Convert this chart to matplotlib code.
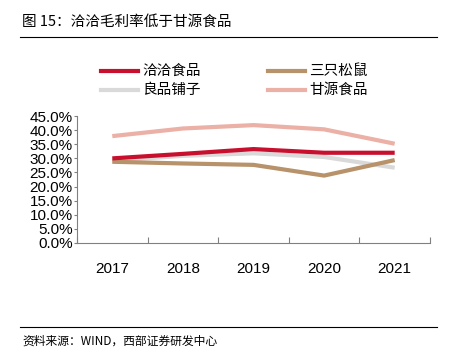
import matplotlib.pyplot as plt
from matplotlib.ticker import FixedLocator, PercentFormatter
from matplotlib.lines import Line2D

plt.rcParams['font.family'] = ['Liberation Sans', 'Noto Sans CJK SC', 'DejaVu Sans']

years = ["2017", "2018", "2019", "2020", "2021"]
qiaqia = [30.0, 31.6, 33.3, 32.0, 32.0]
three_squirrels = [28.8, 28.2, 27.7, 23.9, 29.4]
bestore = [29.2, 30.9, 31.8, 30.5, 26.7]
ganyuan = [37.9, 40.6, 41.8, 40.3, 35.2]

names = ["洽洽食品", "三只松鼠", "良品铺子", "甘源食品"]
series = [qiaqia, three_squirrels, bestore, ganyuan]
colors = ["#C8102E", "#B8926A", "#D9D9D9", "#EBB0A6"]
# draw order: back to front
order = [3, 2, 1, 0]

fig = plt.figure(figsize=(4.54, 3.55), dpi=100)
ax = fig.add_axes([0.1696, 0.3155, 0.7775, 0.3575])

x = list(range(len(years)))
for i in order:
    ax.plot(x, series[i], color=colors[i], lw=3.0, solid_capstyle="butt")

ax.set_xlim(-0.5, 4.5)
ax.set_ylim(0, 45)
ax.yaxis.set_major_locator(FixedLocator([0, 5, 10, 15, 20, 25, 30, 35, 40, 45]))
ax.yaxis.set_major_formatter(PercentFormatter(decimals=1))
ax.xaxis.set_major_locator(FixedLocator([-0.5, 0.5, 1.5, 2.5, 3.5, 4.5]))
ax.xaxis.set_minor_locator(FixedLocator(x))
ax.set_xticklabels([], minor=False)
ax.set_xticklabels(years, minor=True)
ax.tick_params(axis="x", which="major", direction="in", length=4, color="#808080")
ax.tick_params(axis="x", which="minor", length=0, pad=14, labelsize=11)
ax.tick_params(axis="y", direction="out", length=2, color="#808080", labelsize=11, pad=1)
for s in ["top", "right"]:
    ax.spines[s].set_visible(False)
for s in ["left", "bottom"]:
    ax.spines[s].set_color("#808080")
    ax.spines[s].set_linewidth(0.8)

# legend
cjk = ['Noto Sans CJK SC', 'DejaVu Sans']
pos = [(101, 71), (268, 71), (101, 90), (268, 90)]
W, H = 454, 355
for i, (px, py) in enumerate(pos):
    fig.add_artist(Line2D([px / W, (px + 37) / W], [1 - py / H, 1 - py / H],
                          color=colors[i], lw=3.0, transform=fig.transFigure))
    fig.text((px + 41) / W, 1 - py / H, names[i], fontsize=10.5, family=cjk,
             va="center", ha="left")

# title and rules
fig.text(22 / W, 1 - 22 / H, "图 15：洽洽毛利率低于甘源食品", fontsize=10.5,
         family=cjk, va="center", ha="left")
fig.add_artist(Line2D([20 / W, 437 / W], [1 - 37 / H, 1 - 37 / H], color="black",
                      lw=0.8, transform=fig.transFigure))
fig.add_artist(Line2D([20 / W, 437 / W], [1 - 327 / H, 1 - 327 / H], color="black",
                      lw=0.8, transform=fig.transFigure))
fig.text(22 / W, 1 - 341 / H, "资料来源：WIND，西部证券研发中心", fontsize=8.5,
         family=cjk, va="center", ha="left")

fig.savefig("out.png", dpi=100)
